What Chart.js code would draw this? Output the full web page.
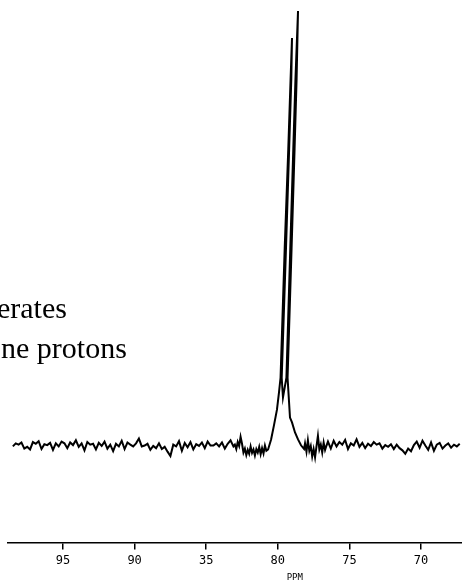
<!DOCTYPE html>
<html>
<head>
<meta charset="utf-8">
<script src="https://cdn.jsdelivr.net/npm/chart.js@4"></script>
<style>
  html, body { margin: 0; padding: 0; background: #fff; }
  #wrap { width: 462px; height: 583px; }
</style>
</head>
<body>
<div id="wrap"><canvas id="myChart" width="462" height="583"></canvas></div>
<script>
// chemical shift (ppm) of the baseline left of the signal
const leftPpm = [98.5, 98.3, 98.1, 97.9, 97.7, 97.5, 97.3, 97.1, 96.9, 96.7,
  96.5, 96.3, 96.1, 95.9, 95.7, 95.5, 95.3, 95.1, 94.9, 94.7,
  94.5, 94.3, 94.1, 93.9, 93.7, 93.5, 93.3, 93.1, 92.9, 92.7,
  92.5, 92.3, 92.1, 91.9, 91.7, 91.5, 91.3, 91.1, 90.9, 90.7,
  90.5, 90.3, 90.1, 89.9, 89.7, 89.5, 89.3, 89.1, 88.9, 88.7,
  88.5, 88.3, 88.1, 87.9, 87.7, 87.5, 87.3, 87.1, 86.9, 86.7,
  86.5, 86.3, 86.1, 85.9, 85.7, 85.5, 85.3, 85.1, 84.9, 84.7,
  84.5, 84.3, 84.1, 83.9, 83.7, 83.5, 83.3, 83.1,
  83.0, 82.9, 82.8, 82.7, 82.6, 82.5, 82.4, 82.3, 82.2, 82.1,
  82.0, 81.9, 81.8, 81.7, 81.6, 81.5, 81.4, 81.3, 81.2, 81.1,
  81.0, 80.9, 80.8];
const leftIntensity = [0.2, 0.9, 0.6, 1.1, -0.3, 0.1, -0.5, 1.2, 0.8, 1.4,
  -0.4, 0.7, 0.5, 1.0, -0.6, 0.9, 0.2, 1.3, 0.9, -0.2,
  1.1, 0.5, 1.6, 0.1, 0.9, -0.7, 1.2, 0.6, 0.8, -0.5,
  1.0, 0.3, 1.3, -0.3, 0.6, -0.9, 0.8, 0.2, 1.5, -0.4,
  1.1, 0.6, 0.2, 0.9, 2.0, 0.2, 0.4, 0.8, -0.6, 0.3,
  -0.2, 0.9, -0.4, 0.1, -1.0, -2.0, 0.6, 0.2, 1.4, -0.8,
  1.0, 0.0, 1.2, -0.5, 0.7, 0.3, 1.1, -0.2, 1.3, 0.4,
  0.4, 0.9, 0.2, 1.1, -0.3, 0.8, 1.6, 0.2,
  0.6, -0.4, 1.2, 0.3, 2.4, 0.8, -1.2, -0.3, -1.8, -0.6,
  -1.5, 0.2, -1.3, -0.5, -1.9, -0.4, -1.2, 0.1, -1.6, -0.2,
  -1.4, 0.4, -0.8];

// the doublet near 79 ppm (trace goes up and down each line)
const peakPpm = [80.68, 80.47, 80.27, 80.06, 79.92, 79.81, 79.52, 79.27, 79.11, 79.01,
  79.06, 79.21, 79.43, 79.73, 79.64, 79.40, 79.13, 78.92, 78.77, 78.59,
  78.69, 78.83, 79.04, 79.32, 79.15, 79.01, 78.80, 78.59, 78.38, 78.17];
const peakIntensity = [-0.5, 1.8, 5.0, 8.6, 12.5, 15.9, 45.5, 68.2, 84.1, 93.6,
  84.1, 68.2, 45.5, 15.9, 11.4, 15.9, 45.5, 68.2, 84.1, 99.8,
  84.1, 68.2, 45.5, 15.9, 6.8, 5.7, 3.4, 1.8, 0.45, -0.4];

// baseline right of the signal
const rightPpm = [78.1, 78.0, 77.9, 77.8, 77.7, 77.6, 77.5, 77.4, 77.3, 77.2,
  77.1, 77.0, 76.9, 76.8, 76.7, 76.6, 76.5,
  76.3, 76.1, 75.9, 75.7, 75.5, 75.3, 75.1, 74.9, 74.7, 74.5,
  74.3, 74.1, 73.9, 73.7, 73.5, 73.3, 73.1, 72.9, 72.7, 72.5,
  72.3, 72.1, 71.9, 71.7, 71.5, 71.3, 71.1, 70.9, 70.7, 70.5,
  70.3, 70.1, 69.9, 69.7, 69.5, 69.3, 69.1, 68.9, 68.7, 68.5,
  68.3, 68.1, 67.9, 67.7, 67.5, 67.3];
const rightIntensity = [0.9, -1.0, 1.6, -0.8, 0.3, -2.1, -0.4, -2.3, 0.2, 2.6,
  -0.5, 0.6, -1.2, 1.1, -0.6, 0.4, 1.3,
  -0.3, 1.5, 0.2, 1.2, 0.6, 1.7, -0.4, 0.9, 0.4, 1.8,
  0.1, 1.0, -0.2, 0.8, 0.3, 1.2, 0.6, 0.9, -0.3, 0.5,
  0.1, 0.7, -0.4, 0.6, -0.2, -0.7, -1.5, -0.3, -0.9, 0.5,
  1.3, -0.1, 1.5, 0.4, -0.6, 1.1, -0.8, 0.6, 1.0, -0.3,
  0.4, 0.9, -0.1, 0.6, 0.2, 0.8];

// axis ticks, labels as printed on the scan
const tickValues = [95, 90, 85, 80, 75, 70];
const tickLabels = ["95", "90", "35", "80", "75", "70"];

// caption fragments cut off at the left edge of the page
const captionLines = ["erates", "ne protons"];

const allPpm = leftPpm.concat(peakPpm, rightPpm);
const allIntensity = leftIntensity.concat(peakIntensity, rightIntensity);
const spectrum = allPpm.map((p, i) => ({ x: p, y: allIntensity[i] }));

// draws the caption text and the PPM unit under the 80 tick
const textPlugin = {
  id: "scanText",
  afterDraw(chart) {
    const ctx = chart.ctx;
    ctx.save();
    ctx.fillStyle = "#000";
    ctx.font = '30px "Liberation Serif"';
    ctx.textBaseline = "alphabetic";
    ctx.fillText(captionLines[0], -3, 318);
    ctx.fillText(captionLines[1], 1, 358);
    const xs = chart.scales.x;
    ctx.font = '9px "DejaVu Sans Mono"';
    ctx.textAlign = "center";
    ctx.textBaseline = "middle";
    ctx.fillText("PPM", xs.getPixelForValue(80) + 17, 578);
    ctx.restore();
  }
};

const ctx = document.getElementById("myChart").getContext("2d");
const myChart = new Chart(ctx, {
  type: "line",
  data: {
    datasets: [{
      data: spectrum,
      borderColor: "#000",
      borderWidth: 2,
      pointRadius: 0,
      tension: 0,
      fill: false
    }]
  },
  options: {
    responsive: false,
    animation: false,
    layout: { padding: { left: 8, right: 0, top: 0, bottom: 11 } },
    plugins: { legend: { display: false }, tooltip: { enabled: false } },
    scales: {
      x: {
        type: "linear",
        reverse: true,
        min: 67.14,
        max: 98.84,
        afterBuildTicks: (scale) => {
          scale.ticks = tickValues.map(v => ({ value: v }));
        },
        ticks: {
          color: "#000",
          font: { family: "DejaVu Sans Mono", size: 12 },
          padding: 4,
          maxRotation: 0,
          autoSkip: false,
          callback: (value) => tickLabels[tickValues.indexOf(value)]
        },
        grid: {
          drawOnChartArea: false,
          drawTicks: true,
          tickLength: 7,
          color: "#000",
          lineWidth: 1.5
        },
        border: { display: true, color: "#000", width: 1.5 }
      },
      y: {
        display: false,
        min: -21.8,
        max: 102.3
      }
    }
  },
  plugins: [textPlugin]
});
</script>
</body>
</html>
